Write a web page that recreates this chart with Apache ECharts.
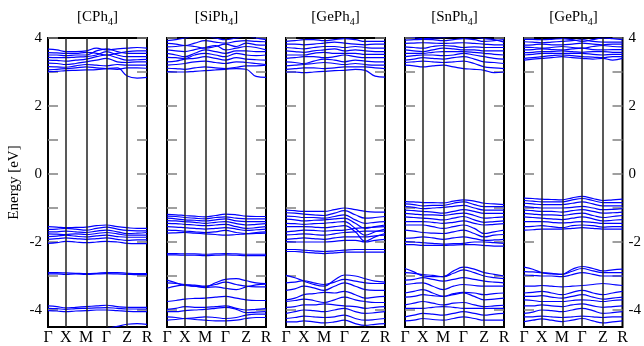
<!DOCTYPE html>
<html>
<head>
<meta charset="utf-8">
<script src="https://cdn.jsdelivr.net/npm/echarts@6/dist/echarts.min.js"></script>
<style>
  html, body { margin: 0; padding: 0; background: #fff; }
  #chart { width: 644px; height: 346px; }
</style>
</head>
<body>
<div id="chart"></div>
<script>
// k-path: sample positions along Γ-X-M-Γ-Z-R
var kPoints = [0, 0.18, 0.385, 0.59, 0.80, 1];
var kLabels = ['Γ', 'X', 'M', 'Γ', 'Z', 'R'];
var kSamples = [0, 0.09, 0.18, 0.28, 0.385, 0.49, 0.59, 0.70, 0.80, 0.90, 1.0];

var panelNames = ['CPh', 'SiPh', 'GePh', 'SnPh', 'GePh'];
var yTicks = [-4, -3, -2, -1, 0, 1, 2, 3, 4];
var yLabels = [-4, -2, 0, 2, 4];

// energies in eV at kSamples
var cph4Bands = [
  [3.01, 3.02, 3.04, 3.05, 3.06, 3.07, 3.1, 3.12, 2.88, 2.82, 2.84],
  [3.06, 3.08, 3.1, 3.12, 3.15, 3.12, 3.1, 3.08, 3.12, 3.12, 3.11],
  [3.16, 3.15, 3.14, 3.18, 3.22, 3.2, 3.18, 3.22, 3.2, 3.2, 3.2],
  [3.26, 3.25, 3.22, 3.25, 3.3, 3.35, 3.4, 3.3, 3.28, 3.3, 3.3],
  [3.35, 3.34, 3.32, 3.35, 3.38, 3.45, 3.5, 3.42, 3.35, 3.36, 3.37],
  [3.43, 3.42, 3.42, 3.44, 3.45, 3.5, 3.6, 3.5, 3.45, 3.45, 3.45],
  [3.5, 3.5, 3.48, 3.5, 3.5, 3.62, 3.68, 3.6, 3.55, 3.55, 3.55],
  [3.57, 3.56, 3.55, 3.55, 3.58, 3.55, 3.5, 3.55, 3.6, 3.62, 3.62],
  [3.67, 3.65, 3.6, 3.6, 3.62, 3.7, 3.65, 3.68, 3.7, 3.72, 3.7],
  [-1.55, -1.56, -1.58, -1.57, -1.56, -1.52, -1.5, -1.55, -1.58, -1.6, -1.6],
  [-1.63, -1.62, -1.6, -1.62, -1.65, -1.6, -1.56, -1.62, -1.66, -1.67, -1.67],
  [-1.7, -1.7, -1.68, -1.7, -1.72, -1.68, -1.65, -1.7, -1.75, -1.74, -1.72],
  [-1.76, -1.77, -1.78, -1.76, -1.78, -1.75, -1.72, -1.76, -1.8, -1.8, -1.8],
  [-1.84, -1.83, -1.8, -1.83, -1.85, -1.82, -1.8, -1.84, -1.86, -1.86, -1.86],
  [-1.92, -1.9, -1.88, -1.9, -1.92, -1.9, -1.88, -1.92, -1.95, -1.94, -1.94],
  [-2.04, -2.02, -1.98, -2.0, -2.02, -2.0, -1.98, -2.0, -2.04, -2.05, -2.05],
  [-2.9, -2.9, -2.91, -2.92, -2.93, -2.92, -2.9, -2.9, -2.92, -2.93, -2.93],
  [-2.94, -2.94, -2.95, -2.94, -2.95, -2.94, -2.93, -2.94, -2.95, -2.96, -2.96],
  [-3.88, -3.9, -3.94, -3.92, -3.9, -3.88, -3.86, -3.9, -3.92, -3.92, -3.92],
  [-3.95, -3.96, -3.98, -3.96, -3.95, -3.94, -3.93, -3.95, -3.97, -3.97, -3.97],
  [-4.02, -4.03, -4.05, -4.03, -4.02, -4.0, -4.0, -4.02, -4.04, -4.05, -4.05],
  [-4.6, -4.6, -4.6, -4.6, -4.6, -4.6, -4.55, -4.48, -4.42, -4.4, -4.42]
];

var siph4Bands = [
  [3.01, 3.0, 3.0, 3.02, 3.04, 3.06, 3.08, 3.1, 3.08, 2.87, 2.84],
  [3.11, 3.1, 3.08, 3.12, 3.15, 3.12, 3.1, 3.14, 3.18, 3.18, 3.2],
  [3.2, 3.22, 3.25, 3.3, 3.32, 3.28, 3.25, 3.3, 3.28, 3.25, 3.22],
  [3.3, 3.32, 3.38, 3.4, 3.45, 3.4, 3.35, 3.42, 3.38, 3.36, 3.35],
  [3.43, 3.42, 3.4, 3.5, 3.55, 3.5, 3.45, 3.55, 3.5, 3.48, 3.5],
  [3.55, 3.5, 3.45, 3.55, 3.65, 3.6, 3.55, 3.62, 3.62, 3.6, 3.6],
  [3.65, 3.62, 3.6, 3.66, 3.72, 3.78, 3.65, 3.7, 3.75, 3.72, 3.65],
  [3.74, 3.75, 3.78, 3.75, 3.7, 3.75, 3.82, 3.75, 3.85, 3.8, 3.79],
  [3.84, 3.82, 3.78, 3.85, 3.92, 3.88, 3.85, 3.9, 3.92, 3.9, 3.89],
  [3.92, 3.95, 4.0, 4.05, 4.05, 4.0, 3.95, 4.0, 4.05, 4.0, 3.95],
  [-1.19, -1.2, -1.22, -1.24, -1.26, -1.22, -1.18, -1.2, -1.24, -1.25, -1.25],
  [-1.24, -1.25, -1.28, -1.3, -1.32, -1.28, -1.26, -1.3, -1.32, -1.32, -1.32],
  [-1.3, -1.32, -1.35, -1.36, -1.38, -1.35, -1.32, -1.38, -1.4, -1.4, -1.4],
  [-1.37, -1.38, -1.4, -1.42, -1.45, -1.42, -1.4, -1.46, -1.5, -1.48, -1.46],
  [-1.45, -1.46, -1.48, -1.5, -1.52, -1.5, -1.48, -1.55, -1.6, -1.58, -1.55],
  [-1.55, -1.56, -1.58, -1.6, -1.62, -1.6, -1.58, -1.62, -1.66, -1.64, -1.62],
  [-1.65, -1.66, -1.68, -1.7, -1.72, -1.7, -1.66, -1.72, -1.75, -1.72, -1.7],
  [-1.74, -1.73, -1.72, -1.74, -1.76, -1.78, -1.8, -1.78, -1.76, -1.75, -1.74],
  [-2.34, -2.34, -2.35, -2.35, -2.36, -2.35, -2.34, -2.35, -2.36, -2.36, -2.36],
  [-2.38, -2.38, -2.39, -2.39, -2.4, -2.39, -2.38, -2.39, -2.4, -2.4, -2.4],
  [-3.12, -3.2, -3.28, -3.3, -3.32, -3.2, -3.1, -3.08, -3.14, -3.2, -3.22],
  [-3.2, -3.22, -3.25, -3.27, -3.3, -3.25, -3.18, -3.25, -3.3, -3.32, -3.32],
  [-3.36, -3.3, -3.26, -3.3, -3.34, -3.32, -3.36, -3.4, -3.32, -3.26, -3.24],
  [-3.75, -3.72, -3.68, -3.66, -3.65, -3.62, -3.6, -3.65, -3.7, -3.72, -3.72],
  [-3.98, -3.95, -3.9, -3.92, -3.92, -3.9, -3.88, -3.95, -4.0, -3.98, -3.96],
  [-4.05, -4.05, -4.02, -4.0, -3.98, -3.95, -3.92, -3.98, -4.08, -4.06, -4.05],
  [-4.2, -4.22, -4.25, -4.23, -4.2, -4.22, -4.25, -4.22, -4.15, -4.12, -4.12],
  [-4.3, -4.28, -4.25, -4.28, -4.3, -4.32, -4.32, -4.3, -4.25, -4.22, -4.22]
];

var geph4Bands = [
  [3.0, 3.0, 2.98, 3.0, 3.02, 3.04, 3.05, 3.08, 3.05, 2.88, 2.85],
  [3.08, 3.1, 3.12, 3.12, 3.1, 3.12, 3.15, 3.15, 3.15, 3.12, 3.1],
  [3.18, 3.2, 3.22, 3.25, 3.28, 3.25, 3.22, 3.25, 3.22, 3.2, 3.2],
  [3.3, 3.28, 3.25, 3.32, 3.38, 3.35, 3.3, 3.35, 3.32, 3.3, 3.3],
  [3.4, 3.42, 3.45, 3.45, 3.42, 3.45, 3.5, 3.45, 3.42, 3.42, 3.42],
  [3.5, 3.5, 3.5, 3.55, 3.58, 3.55, 3.55, 3.55, 3.52, 3.52, 3.52],
  [3.62, 3.6, 3.58, 3.62, 3.65, 3.68, 3.62, 3.65, 3.62, 3.6, 3.6],
  [3.72, 3.7, 3.68, 3.72, 3.75, 3.75, 3.72, 3.75, 3.72, 3.7, 3.7],
  [3.82, 3.82, 3.8, 3.82, 3.85, 3.88, 3.85, 3.82, 3.8, 3.82, 3.82],
  [3.9, 3.92, 3.95, 3.95, 3.92, 3.95, 3.98, 3.95, 3.9, 3.9, 3.9],
  [-1.06, -1.08, -1.1, -1.1, -1.1, -1.05, -1.0, -1.05, -1.1, -1.12, -1.12],
  [-1.14, -1.15, -1.18, -1.2, -1.22, -1.15, -1.08, -1.2, -1.3, -1.28, -1.25],
  [-1.24, -1.25, -1.28, -1.28, -1.3, -1.25, -1.2, -1.35, -1.45, -1.42, -1.4],
  [-1.33, -1.35, -1.38, -1.36, -1.35, -1.32, -1.3, -1.45, -1.6, -1.55, -1.5],
  [-1.45, -1.46, -1.48, -1.46, -1.45, -1.42, -1.4, -1.6, -1.8, -1.7, -1.62],
  [-1.55, -1.55, -1.55, -1.56, -1.58, -1.55, -1.52, -1.7, -1.98, -1.85, -1.75],
  [-1.7, -1.68, -1.65, -1.66, -1.68, -1.66, -1.65, -1.6, -1.58, -1.56, -1.55],
  [-1.79, -1.78, -1.76, -1.78, -1.8, -1.76, -1.72, -1.7, -1.68, -1.68, -1.68],
  [-1.92, -1.9, -1.88, -1.9, -1.92, -1.88, -1.85, -1.85, -1.85, -1.82, -1.8],
  [-1.99, -2.0, -2.0, -2.0, -2.0, -1.98, -1.95, -1.95, -2.0, -1.95, -1.92],
  [-2.22, -2.22, -2.24, -2.26, -2.28, -2.26, -2.24, -2.22, -2.22, -2.22, -2.22],
  [-2.28, -2.28, -2.3, -2.32, -2.34, -2.32, -2.3, -2.3, -2.3, -2.3, -2.3],
  [-2.98, -3.05, -3.15, -3.25, -3.3, -3.12, -2.97, -3.0, -3.08, -3.15, -3.18],
  [-3.2, -3.18, -3.14, -3.2, -3.25, -3.18, -3.1, -3.15, -3.2, -3.22, -3.22],
  [-3.42, -3.38, -3.3, -3.35, -3.42, -3.3, -3.2, -3.3, -3.4, -3.42, -3.42],
  [-3.7, -3.65, -3.55, -3.52, -3.48, -3.5, -3.45, -3.55, -3.65, -3.62, -3.6],
  [-3.75, -3.72, -3.68, -3.72, -3.78, -3.7, -3.62, -3.7, -3.75, -3.78, -3.78],
  [-3.92, -3.9, -3.85, -3.85, -3.82, -3.85, -3.88, -3.9, -3.95, -3.92, -3.9],
  [-4.1, -4.05, -4.0, -4.02, -4.05, -4.0, -3.95, -4.05, -4.1, -4.08, -4.05],
  [-4.25, -4.22, -4.18, -4.2, -4.22, -4.2, -4.15, -4.25, -4.3, -4.28, -4.25],
  [-4.35, -4.35, -4.32, -4.35, -4.38, -4.35, -4.3, -4.4, -4.45, -4.42, -4.4]
];

var snph4Bands = [
  [3.2, 3.18, 3.15, 3.18, 3.2, 3.15, 3.1, 3.08, 3.05, 2.98, 3.0],
  [3.28, 3.3, 3.32, 3.3, 3.28, 3.3, 3.32, 3.25, 3.15, 3.12, 3.1],
  [3.35, 3.38, 3.42, 3.4, 3.38, 3.42, 3.45, 3.38, 3.3, 3.28, 3.25],
  [3.45, 3.48, 3.5, 3.5, 3.48, 3.5, 3.55, 3.5, 3.45, 3.4, 3.38],
  [3.55, 3.55, 3.55, 3.58, 3.6, 3.6, 3.6, 3.58, 3.55, 3.52, 3.5],
  [3.65, 3.62, 3.6, 3.65, 3.7, 3.68, 3.65, 3.65, 3.62, 3.62, 3.62],
  [3.74, 3.72, 3.7, 3.75, 3.78, 3.76, 3.72, 3.74, 3.72, 3.72, 3.72],
  [3.84, 3.85, 3.86, 3.85, 3.84, 3.85, 3.86, 3.84, 3.82, 3.8, 3.8],
  [3.94, 3.95, 3.96, 3.95, 3.92, 3.95, 3.98, 3.95, 3.9, 3.92, 3.95],
  [4.05, 4.02, 3.98, 4.0, 4.02, 4.05, 4.08, 4.05, 3.98, 3.95, 3.88],
  [-0.81, -0.82, -0.84, -0.84, -0.85, -0.8, -0.76, -0.8, -0.86, -0.88, -0.9],
  [-0.88, -0.9, -0.94, -0.92, -0.92, -0.86, -0.82, -0.9, -0.96, -0.96, -0.96],
  [-0.96, -0.98, -1.02, -1.0, -0.98, -0.95, -0.92, -1.0, -1.06, -1.06, -1.06],
  [-1.06, -1.08, -1.1, -1.12, -1.15, -1.1, -1.05, -1.1, -1.16, -1.16, -1.16],
  [-1.16, -1.18, -1.2, -1.2, -1.22, -1.18, -1.15, -1.22, -1.3, -1.28, -1.26],
  [-1.26, -1.28, -1.3, -1.32, -1.35, -1.3, -1.25, -1.35, -1.42, -1.4, -1.38],
  [-1.4, -1.4, -1.4, -1.42, -1.45, -1.42, -1.38, -1.45, -1.5, -1.48, -1.46],
  [-1.5, -1.5, -1.5, -1.55, -1.6, -1.55, -1.5, -1.6, -1.75, -1.7, -1.65],
  [-1.65, -1.68, -1.72, -1.74, -1.75, -1.7, -1.65, -1.75, -1.85, -1.8, -1.78],
  [-1.89, -1.88, -1.85, -1.88, -1.92, -1.88, -1.85, -1.9, -1.95, -1.94, -1.92],
  [-1.99, -2.0, -2.02, -2.04, -2.06, -2.05, -2.04, -2.0, -2.0, -2.02, -2.04],
  [-2.08, -2.08, -2.1, -2.1, -2.1, -2.09, -2.08, -2.08, -2.1, -2.12, -2.12],
  [-2.78, -2.88, -3.0, -3.02, -3.02, -2.85, -2.74, -2.8, -2.9, -2.95, -3.0],
  [-2.9, -2.92, -2.96, -2.98, -3.02, -2.92, -2.82, -2.9, -3.0, -3.05, -3.08],
  [-3.12, -3.1, -3.05, -3.1, -3.15, -3.1, -3.05, -3.1, -3.15, -3.18, -3.2],
  [-3.25, -3.22, -3.2, -3.3, -3.4, -3.3, -3.25, -3.28, -3.3, -3.3, -3.3],
  [-3.5, -3.45, -3.4, -3.5, -3.6, -3.52, -3.48, -3.5, -3.55, -3.52, -3.5],
  [-3.62, -3.6, -3.55, -3.58, -3.6, -3.55, -3.5, -3.6, -3.7, -3.68, -3.65],
  [-3.85, -3.8, -3.75, -3.8, -3.85, -3.8, -3.78, -3.85, -3.9, -3.88, -3.86],
  [-3.95, -3.95, -3.95, -3.92, -3.9, -3.92, -3.95, -3.95, -3.95, -3.95, -3.95],
  [-4.2, -4.15, -4.1, -4.12, -4.15, -4.1, -4.05, -4.1, -4.15, -4.12, -4.1],
  [-4.32, -4.3, -4.25, -4.28, -4.3, -4.25, -4.2, -4.25, -4.3, -4.3, -4.3]
];

var geph4bBands = [
  [3.35, 3.38, 3.4, 3.42, 3.45, 3.42, 3.4, 3.38, 3.4, 3.35, 3.4],
  [3.4, 3.42, 3.45, 3.48, 3.5, 3.48, 3.45, 3.44, 3.42, 3.45, 3.45],
  [3.5, 3.52, 3.55, 3.55, 3.55, 3.55, 3.55, 3.52, 3.5, 3.52, 3.52],
  [3.57, 3.58, 3.6, 3.6, 3.62, 3.6, 3.58, 3.6, 3.6, 3.58, 3.58],
  [3.65, 3.66, 3.68, 3.66, 3.65, 3.68, 3.7, 3.66, 3.65, 3.66, 3.66],
  [3.73, 3.72, 3.7, 3.72, 3.75, 3.72, 3.7, 3.75, 3.78, 3.75, 3.74],
  [3.79, 3.8, 3.82, 3.8, 3.8, 3.82, 3.85, 3.82, 3.8, 3.82, 3.82],
  [3.89, 3.88, 3.86, 3.88, 3.9, 3.92, 3.95, 3.9, 3.88, 3.88, 3.88],
  [3.96, 3.96, 3.95, 3.96, 3.98, 3.95, 3.9, 3.95, 4.0, 3.98, 3.95],
  [-0.71, -0.72, -0.74, -0.75, -0.76, -0.7, -0.66, -0.72, -0.78, -0.76, -0.74],
  [-0.78, -0.8, -0.82, -0.82, -0.82, -0.76, -0.72, -0.78, -0.84, -0.84, -0.84],
  [-0.86, -0.88, -0.9, -0.9, -0.9, -0.86, -0.82, -0.88, -0.94, -0.94, -0.94],
  [-0.96, -0.98, -1.0, -1.0, -1.0, -0.98, -0.95, -1.0, -1.05, -1.04, -1.02],
  [-1.06, -1.08, -1.1, -1.1, -1.12, -1.08, -1.05, -1.1, -1.15, -1.14, -1.12],
  [-1.16, -1.18, -1.2, -1.2, -1.22, -1.18, -1.15, -1.22, -1.28, -1.25, -1.22],
  [-1.26, -1.28, -1.3, -1.32, -1.34, -1.3, -1.26, -1.32, -1.38, -1.36, -1.34],
  [-1.4, -1.4, -1.4, -1.42, -1.44, -1.42, -1.4, -1.42, -1.45, -1.45, -1.45],
  [-1.55, -1.54, -1.52, -1.55, -1.58, -1.52, -1.5, -1.52, -1.56, -1.55, -1.55],
  [-1.65, -1.64, -1.62, -1.62, -1.62, -1.6, -1.58, -1.6, -1.62, -1.62, -1.62],
  [-2.74, -2.8, -2.9, -2.94, -2.95, -2.8, -2.72, -2.78, -2.85, -2.82, -2.8],
  [-2.87, -2.88, -2.9, -2.92, -2.95, -2.86, -2.78, -2.85, -2.9, -2.9, -2.9],
  [-2.97, -2.98, -3.0, -3.0, -3.02, -2.96, -2.9, -2.95, -3.0, -3.0, -3.0],
  [-3.3, -3.3, -3.28, -3.3, -3.32, -3.3, -3.28, -3.25, -3.22, -3.25, -3.28],
  [-3.5, -3.48, -3.45, -3.5, -3.55, -3.48, -3.42, -3.5, -3.55, -3.5, -3.45],
  [-3.6, -3.6, -3.58, -3.62, -3.65, -3.6, -3.55, -3.62, -3.68, -3.65, -3.62],
  [-3.7, -3.72, -3.75, -3.75, -3.75, -3.72, -3.7, -3.72, -3.75, -3.72, -3.7],
  [-3.88, -3.88, -3.85, -3.88, -3.9, -3.85, -3.82, -3.88, -3.92, -3.9, -3.88],
  [-4.1, -4.06, -4.0, -4.02, -4.05, -4.0, -3.95, -4.02, -4.1, -4.08, -4.05],
  [-4.2, -4.2, -4.18, -4.2, -4.22, -4.2, -4.18, -4.2, -4.22, -4.2, -4.2],
  [-4.34, -4.3, -4.26, -4.3, -4.34, -4.3, -4.25, -4.32, -4.38, -4.35, -4.32]
];

var allBands = [cph4Bands, siph4Bands, geph4Bands, snph4Bands, geph4bBands];
var panelLeft = [48, 167, 286, 405, 524];
var panelWidth = 99;

var chart = echarts.init(document.getElementById('chart'));
var serif = 'Liberation Serif';

var grids = [], xAxes = [], yAxes = [], series = [], graphics = [];

panelLeft.forEach(function (left, p) {
  grids.push({
    left: left, top: 38, width: panelWidth, height: 289,
    show: true, borderColor: '#000', borderWidth: 2, backgroundColor: 'transparent'
  });
  xAxes.push({
    type: 'value', gridIndex: p, min: 0, max: 1,
    axisLine: { show: false }, axisTick: { show: false }, splitLine: { show: false },
    axisLabel: {
      customValues: kPoints, margin: 3,
      fontFamily: serif, fontSize: 16, color: '#000',
      formatter: function (v) { return kLabels[kPoints.indexOf(v)]; }
    }
  });
  ['left', 'right'].forEach(function (pos) {
    var showLabel = (pos === 'left' && p === 0) || (pos === 'right' && p === 4);
    yAxes.push({
      type: 'value', gridIndex: p, position: pos, min: -4.5, max: 4,
      name: (pos === 'left' && p === 0) ? 'Energy [eV]' : '',
      nameLocation: 'middle', nameGap: 26,
      nameTextStyle: { fontFamily: serif, fontSize: 15, color: '#000' },
      axisLine: { show: false }, splitLine: { show: false },
      axisTick: {
        inside: true, length: 10, customValues: yTicks,
        lineStyle: { color: '#808080', width: 1.5 }
      },
      axisLabel: {
        show: showLabel, customValues: yLabels, margin: 6,
        fontFamily: serif, fontSize: 15, color: '#000'
      }
    });
  });

  // high-symmetry vertical lines
  series.push({
    type: 'line', xAxisIndex: p, yAxisIndex: p * 2, data: [], silent: true,
    markLine: {
      silent: true, symbol: 'none', label: { show: false },
      lineStyle: { color: '#222', width: 1.5, type: 'solid' },
      data: kPoints.slice(1, 5).map(function (k) { return { xAxis: k }; })
    }
  });

  allBands[p].forEach(function (band) {
    series.push({
      type: 'line', xAxisIndex: p, yAxisIndex: p * 2,
      data: band.map(function (e, i) { return [kSamples[i], e]; }),
      smooth: 0.4, showSymbol: false, silent: true, clip: true,
      lineStyle: { color: '#0000ff', width: 1.2 }, z: 3
    });
  });

  graphics.push({
    type: 'text', x: left + panelWidth / 2, y: 17,
    style: {
      text: '{n|[' + panelNames[p] + '}{s|4}{n|]}',
      align: 'center', verticalAlign: 'middle',
      rich: {
        n: { fontFamily: serif, fontSize: 15, fill: '#000', lineHeight: 20 },
        s: { fontFamily: serif, fontSize: 10, fill: '#000', verticalAlign: 'bottom', lineHeight: 10 }
      }
    }
  });
});

chart.setOption({
  animation: false,
  grid: grids,
  xAxis: xAxes,
  yAxis: yAxes,
  series: series,
  graphic: graphics
});
</script>
</body>
</html>
